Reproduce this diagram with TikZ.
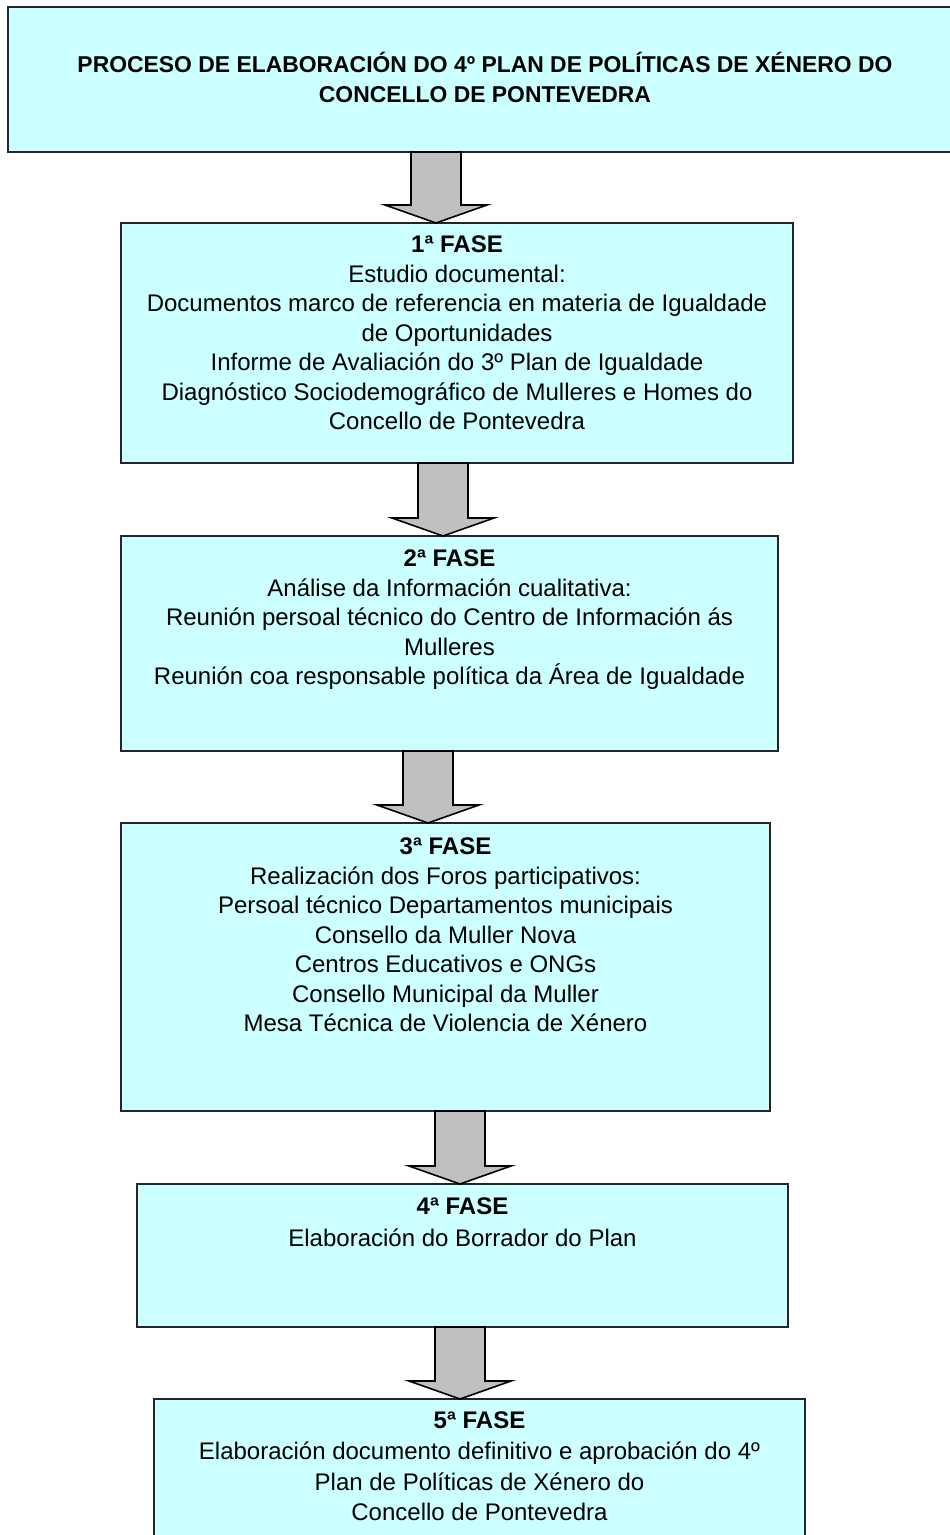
\documentclass[tikz,border=0pt]{standalone}
\usepackage{fontspec}
\setmainfont{Liberation Sans}
\usetikzlibrary{calc}
\definecolor{faseblue}{HTML}{CCFFFF}
\definecolor{arrowgray}{HTML}{C0C0C0}

\begin{document}
\begin{tikzpicture}[x=1pt, y=-1pt,
  fasebox/.style={draw=black!85, line width=1.8pt, fill=faseblue, inner sep=0pt, outer sep=0pt},
  fasetext/.style={anchor=north, align=center, inner sep=0pt, font=\fontsize{24}{29.5}\selectfont},
  blockarrow/.style={draw=black, line width=1.6pt, fill=arrowgray, to path={let \p1=(\tikztostart), \p2=(\tikztotarget) in
    (\x2-25pt,\y1) -- (\x2+25pt,\y1) -- (\x2+25pt,\y2+18pt) -- (\x2+51pt,\y2+18pt) -- (\tikztotarget)
    -- (\x2-51pt,\y2+18pt) -- (\x2-25pt,\y2+18pt) -- cycle}}]
\useasboundingbox (0,0) rectangle (950,1535);
\clip (0,0) rectangle (950,1535);

\node[fasebox, minimum width=954pt, minimum height=145pt] (top) at (485,79.5) {};
\node[fasebox, minimum width=672pt, minimum height=240pt] (f1) at (457,343) {};
\node[fasebox, minimum width=657pt, minimum height=215pt] (f2) at (449.5,643.5) {};
\node[fasebox, minimum width=649pt, minimum height=288pt] (f3) at (445.5,967) {};
\node[fasebox, minimum width=651pt, minimum height=143pt] (f4) at (462.5,1255.5) {};
\node[fasebox, minimum width=651pt, minimum height=146pt] (f5) at (479.5,1472) {};

\node[fasetext, font=\fontsize{22.9}{30}\selectfont\bfseries] (t0) at ($(top.north)+(0,45)$)
  {PROCESO DE ELABORACIÓN DO 4º PLAN DE POLÍTICAS DE XÉNERO DO\\CONCELLO DE PONTEVEDRA};
\node[fasetext] (t1) at ($(f1.north)+(0,13)$)
  {\textbf{1ª FASE}\\Estudio documental:\\Documentos marco de referencia en materia de Igualdade\\de Oportunidades\\Informe de Avaliación do 3º Plan de Igualdade\\Diagnóstico Sociodemográfico de Mulleres e Homes do\\Concello de Pontevedra};
\node[fasetext] (t2) at ($(f2.north)+(0,14)$)
  {\textbf{2ª FASE}\\Análise da Información cualitativa:\\Reunión persoal técnico do Centro de Información ás\\Mulleres\\Reunión coa responsable política da Área de Igualdade};
\node[fasetext] (t3) at ($(f3.north)+(0,15)$)
  {\textbf{3ª FASE}\\Realización dos Foros participativos:\\Persoal técnico Departamentos municipais\\Consello da Muller Nova\\Centros Educativos e ONGs\\Consello Municipal da Muller\\Mesa Técnica de Violencia de Xénero};
\node[fasetext, font=\fontsize{24}{32}\selectfont] (t4) at ($(f4.north)+(0,14)$)
  {\textbf{4ª FASE}\\Elaboración do Borrador do Plan};
\node[fasetext, font=\fontsize{24}{30.6}\selectfont] (t5) at ($(f5.north)+(0,13)$)
  {\textbf{5ª FASE}\\Elaboración documento definitivo e aprobación do 4º\\Plan de Políticas de Xénero do\\Concello de Pontevedra};

\coordinate (x1) at (436,0);
\coordinate (x2) at (443,0);
\coordinate (x3) at (428,0);
\coordinate (x4) at (460,0);
\coordinate (x5) at (460,0);
\draw[blockarrow] (top.south -| x1) to (f1.north -| x1);
\draw[blockarrow] (f1.south -| x2) to (f2.north -| x2);
\draw[blockarrow] (f2.south -| x3) to (f3.north -| x3);
\draw[blockarrow] (f3.south -| x4) to (f4.north -| x4);
\draw[blockarrow] (f4.south -| x5) to (f5.north -| x5);
\end{tikzpicture}
\end{document}
